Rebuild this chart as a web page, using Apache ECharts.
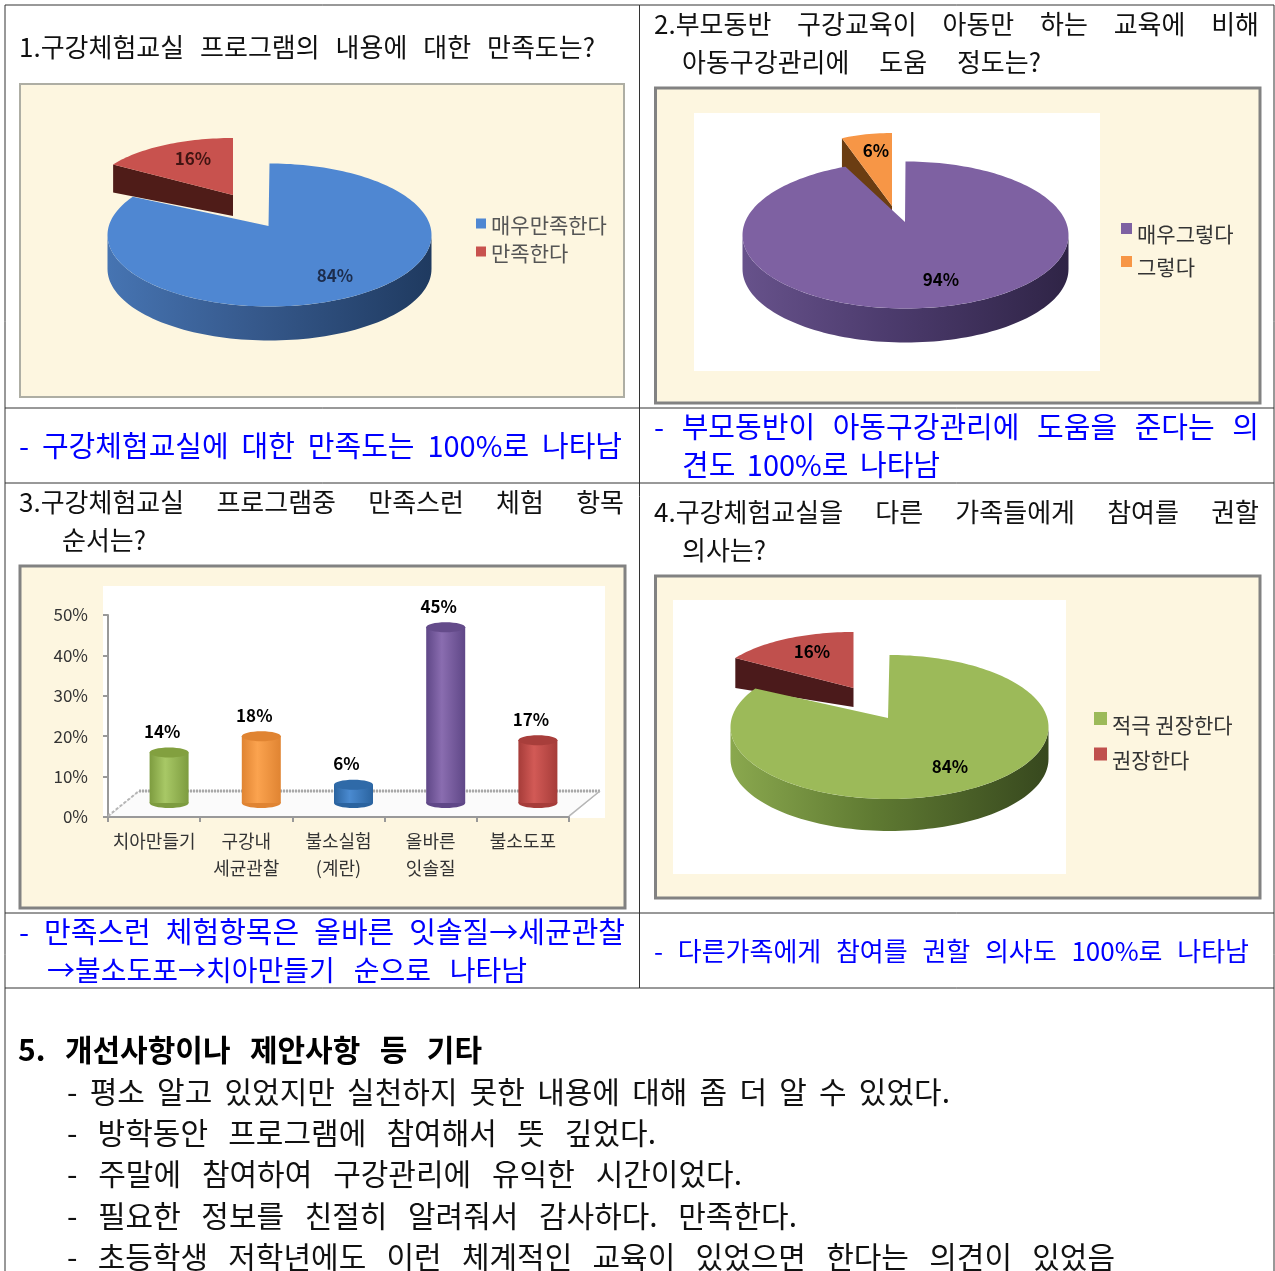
<!DOCTYPE html>
<html>
<head>
<meta charset="utf-8">
<style>
  html, body { margin: 0; padding: 0; background: #fff; overflow: hidden; }
  #main { width: 1275px; height: 1271px; }
</style>
<script src="https://cdn.jsdelivr.net/npm/echarts@6/dist/echarts.min.js"></script>
</head>
<body>
<div id="main"></div>
<script>
var pie1Names = ['매우만족한다', '만족한다'];
var pie1Values = [84, 16];
var pie2Names = ['매우그렇다', '그렇다'];
var pie2Values = [94, 6];
var pie4Names = ['적극 권장한다', '권장한다'];
var pie4Values = [84, 16];

var barCategories = ['치아만들기', '구강내\n세균관찰', '불소실험\n(계란)', '올바른\n잇솔질', '불소도포'];
var barValues = [14, 18, 6, 45, 17];

var textLines = [
    '1.구강체험교실 프로그램의 내용에 대한 만족도는?',
    '2.부모동반 구강교육이 아동만 하는 교육에 비해',
    '아동구강관리에 도움 정도는?',
    '3.구강체험교실 프로그램중 만족스런 체험 항목',
    '순서는?',
    '4.구강체험교실을 다른 가족들에게 참여를 권할',
    '의사는?'
];
var blueLines = [
    '- 구강체험교실에 대한 만족도는 100%로 나타남',
    '- 부모동반이 아동구강관리에 도움을 준다는 의',
    '견도 100%로 나타남',
    '- 만족스런 체험항목은 올바른 잇솔질→세균관찰',
    '→불소도포→치아만들기 순으로 나타남',
    '- 다른가족에게 참여를 권할 의사도 100%로 나타남'
];
var noteTitle = '5. 개선사항이나 제안사항 등 기타';
var noteLines = [
    '- 평소 알고 있었지만 실천하지 못한 내용에 대해 좀 더 알 수 있었다.',
    '- 방학동안 프로그램에 참여해서 뜻 깊었다.',
    '- 주말에 참여하여 구강관리에 유익한 시간이었다.',
    '- 필요한 정보를 친절히 알려줘서 감사하다. 만족한다.',
    '- 초등학생 저학년에도 이런 체계적인 교육이 있었으면 한다는 의견이 있었음'
];

// [시작x, 끝x, 중심y]
var textBoxes = [[19, 595, 47], [654, 1259, 24], [682, 1041, 62], [19, 624, 502], [62, 153, 540], [654, 1259, 512], [682, 774, 550]];
var blueBoxes = [[19, 622, 446], [654, 1259, 427], [682, 940, 465], [19, 625, 932], [47, 527, 970], [654, 1249, 951]];
var blueSizes = [29, 29, 29, 29, 28, 26];
var noteTitleBox = [18, 482, 1050];
var noteBoxes = [[67, 950, 1092], [67, 656, 1133], [67, 742, 1174], [67, 797, 1216], [67, 1115, 1257]];

var FONT = '"Noto Sans CJK KR", "Noto Sans", sans-serif';
var measure = document.createElement('canvas').getContext('2d');

// 글자를 단어별로 나눠서 양쪽 맞춤으로 배치
function lineText(text, box, color, size, weight) {
    var font = (weight || 'normal') + ' ' + size + 'px ' + FONT;
    measure.font = font;
    var words = text.split(' ');
    var total = 0;
    words.forEach(function (w) { total += measure.measureText(w).width; });
    var gap = words.length > 1 ? (box[1] - box[0] - total) / (words.length - 1) : 0;
    var x = box[0];
    return words.map(function (w) {
        var el = {
            type: 'text', z: 5,
            style: { text: w, x: x, y: box[2], font: font, fill: color, verticalAlign: 'middle' }
        };
        x += measure.measureText(w).width + gap;
        return el;
    });
}

function panel(x1, y1, x2, y2, stroke, width) {
    return {
        type: 'rect', z: -3,
        shape: { x: x1, y: y1, width: x2 - x1, height: y2 - y1 },
        style: { fill: '#fdf6e0', stroke: stroke, lineWidth: width }
    };
}
function whiteBox(x1, y1, x2, y2) {
    return { type: 'rect', z: -2, shape: { x: x1, y: y1, width: x2 - x1, height: y2 - y1 }, style: { fill: '#fff' } };
}
function rule(x1, y1, x2, y2, w) {
    return { type: 'line', z: 6, shape: { x1: x1, y1: y1, x2: x2, y2: y2 }, style: { stroke: '#333', lineWidth: w || 1 } };
}

var elements = [
    panel(20, 84, 624, 397, '#aeaea4', 2),
    panel(655.5, 88, 1260, 403, '#828282', 3),
    panel(20, 566, 625, 908, '#828282', 3),
    panel(655.5, 576, 1260, 898, '#828282', 3),
    whiteBox(694, 113, 1100, 371),
    whiteBox(103, 586, 605, 818),
    whiteBox(673, 600, 1066, 874),
    rule(5, 5, 1274, 5), rule(5, 408, 1274, 408), rule(5, 483, 1274, 483),
    rule(5, 913, 1274, 913), rule(5, 988, 1274, 988),
    rule(5, 5, 5, 1271), rule(1274, 5, 1274, 1271), rule(639.5, 5, 639.5, 988),
    // 막대 그래프 바닥면
    {
        type: 'polygon', z: 0,
        shape: { points: [[108, 817], [139, 791], [600, 791], [569, 817]] },
        style: { fill: '#fbfbfb', stroke: '#dcdcdc', lineWidth: 1 }
    },
    { type: 'line', z: 1, shape: { x1: 139, y1: 791, x2: 600, y2: 791 }, style: { stroke: '#a9a9a9', lineWidth: 3, lineDash: [2, 1] } },
    { type: 'line', z: 1, shape: { x1: 108, y1: 816, x2: 139, y2: 791 }, style: { stroke: '#b5b5b5', lineWidth: 2, lineDash: [3, 2] } },
    { type: 'line', z: 1, shape: { x1: 569, y1: 816, x2: 600, y2: 791 }, style: { stroke: '#b5b5b5', lineWidth: 1.5 } }
];
textLines.forEach(function (t, i) { elements = elements.concat(lineText(t, textBoxes[i], '#111', 26)); });
blueLines.forEach(function (t, i) { elements = elements.concat(lineText(t, blueBoxes[i], '#0000ff', blueSizes[i])); });
elements = elements.concat(lineText(noteTitle, noteTitleBox, '#000', 30, 'bold'));
noteLines.forEach(function (t, i) { elements = elements.concat(lineText(t, noteBoxes[i], '#111', 30)); });

var series = [];

// 3차원 원그래프 조각 하나 (pie 는 타원이 안 되므로 custom 으로 그림)
function pieSlice(name, value, startValue, total, cfg) {
    series.push({
        type: 'custom',
        name: name,
        coordinateSystem: 'none',
        silent: true,
        z: cfg.z,
        itemStyle: { color: cfg.top },
        data: [[value, startValue, total]],
        renderItem: function (params, api) {
            var a0 = api.value(1) / api.value(2) * 360;
            var a1 = (api.value(1) + api.value(0)) / api.value(2) * 360;
            function pt(deg, dy) {
                var r = deg * Math.PI / 180;
                return [cfg.cx + cfg.rx * Math.sin(r), cfg.cy - cfg.ry * Math.cos(r) + (dy || 0)];
            }
            var children = [];
            // 옆면
            var s0 = Math.max(a0, 90), s1 = Math.min(a1, 270);
            if (s1 > s0) {
                var wall = [], back = [];
                for (var d = s0; d <= s1; d += 2) {
                    wall.push(pt(d));
                    back.unshift(pt(d, cfg.depth));
                }
                children.push({
                    type: 'polygon',
                    shape: { points: wall.concat(back) },
                    style: {
                        fill: new echarts.graphic.LinearGradient(0, 0, 1, 0, [
                            { offset: 0, color: cfg.side[0] },
                            { offset: 0.45, color: cfg.side[1] },
                            { offset: 1, color: cfg.side[2] }
                        ])
                    }
                });
            }
            // 떨어져 나온 조각의 잘린 면
            if (cfg.cut) {
                var c = pt(a0);
                children.push({
                    type: 'polygon',
                    shape: { points: [c, [cfg.ax, cfg.ay], [cfg.ax, cfg.ay + cfg.cutDepth], [c[0], c[1] + cfg.depth]] },
                    style: { fill: cfg.cut }
                });
            }
            // 윗면
            var top = [[cfg.ax, cfg.ay]];
            for (var t = a0; t < a1; t += 1.5) top.push(pt(t));
            top.push(pt(a1));
            children.push({ type: 'polygon', shape: { points: top }, style: { fill: cfg.top } });
            children.push({
                type: 'text',
                style: {
                    text: api.value(0) + '%', x: cfg.lx, y: cfg.ly, align: 'center', verticalAlign: 'middle',
                    font: 'bold 17px ' + FONT, fill: cfg.labelColor
                }
            });
            return { type: 'group', children: children };
        }
    });
}

function addPie(names, values, mainCfg, restCfg) {
    var total = values[0] + values[1];
    pieSlice(names[1], values[1], values[0], total, restCfg);
    pieSlice(names[0], values[0], 0, total, mainCfg);
}

addPie(pie1Names, pie1Values,
    { z: 3, cx: 269.5, cy: 235, rx: 162, ry: 71.5, ax: 268.5, ay: 226, depth: 34, top: '#4f87d2',
      side: ['#4674b2', '#36598c', '#1f3a60'], lx: 335, ly: 276, labelColor: '#1c2c4c' },
    { z: 2, cx: 233, cy: 195, rx: 142, ry: 57, ax: 233, ay: 195, depth: 28, cutDepth: 21, top: '#c8524e',
      cut: '#4f1c18', side: ['#000', '#000', '#000'], lx: 193, ly: 159, labelColor: '#401412' });
addPie(pie2Names, pie2Values,
    { z: 3, cx: 905.5, cy: 235, rx: 163, ry: 73.5, ax: 905, ay: 222, depth: 34, top: '#7e61a2',
      side: ['#67528b', '#4c3b6d', '#2f2446'], lx: 941, ly: 280, labelColor: '#000' },
    { z: 2, cx: 892, cy: 206, rx: 136, ry: 73, ax: 892, ay: 206, depth: 29, cutDepth: 8, top: '#f79646',
      cut: '#6b3d12', side: ['#000', '#000', '#000'], lx: 876, ly: 151, labelColor: '#000' });
addPie(pie4Names, pie4Values,
    { z: 3, cx: 889.5, cy: 727, rx: 159, ry: 72, ax: 888, ay: 718, depth: 32, top: '#9cba59',
      side: ['#8aa84e', '#5f7a32', '#37481e'], lx: 950, ly: 767, labelColor: '#000' },
    { z: 2, cx: 853.5, cy: 688, rx: 140, ry: 56, ax: 853.5, ay: 688, depth: 30, cutDepth: 19, top: '#c0504d',
      cut: '#4b1a1b', side: ['#000', '#000', '#000'], lx: 812, ly: 652, labelColor: '#000' });

// 원기둥 막대
var barTones = [
    ['#7d9c3f', '#a8c866', '#82a03f'],
    ['#e08432', '#fba34f', '#e08432'],
    ['#2a639f', '#4a8ad0', '#2f6aa8'],
    ['#5f4787', '#8a6db0', '#644b8a'],
    ['#a63c39', '#d25a56', '#a83e3b']
];
series.push({
    type: 'custom',
    coordinateSystem: 'cartesian2d',
    xAxisIndex: 0,
    yAxisIndex: 0,
    silent: true,
    z: 3,
    encode: { x: 0, y: 1 },
    data: barValues.map(function (v, i) { return [i, v]; }),
    renderItem: function (params, api) {
        var i = api.value(0);
        var tone = barTones[i];
        var topPt = api.coord([i, api.value(1)]);
        var basePt = api.coord([i, 0]);
        var x = topPt[0] + 15, w = 39, ry = 5;
        var yTop = topPt[1] - 8, yBase = basePt[1] - 14;
        return {
            type: 'group',
            children: [
                { type: 'ellipse', shape: { cx: x, cy: yBase, rx: w / 2, ry: ry }, style: { fill: tone[0] } },
                {
                    type: 'rect',
                    shape: { x: x - w / 2, y: yTop, width: w, height: yBase - yTop },
                    style: {
                        fill: new echarts.graphic.LinearGradient(0, 0, 1, 0, [
                            { offset: 0, color: tone[0] },
                            { offset: 0.4, color: tone[1] },
                            { offset: 1, color: tone[0] }
                        ])
                    }
                },
                { type: 'ellipse', shape: { cx: x, cy: yTop, rx: w / 2, ry: ry }, style: { fill: tone[2] } },
                {
                    type: 'text',
                    style: {
                        text: api.value(1) + '%', x: x - 7, y: yTop - 21, align: 'center', verticalAlign: 'middle',
                        font: 'bold 17px ' + FONT, fill: '#000'
                    }
                }
            ]
        };
    }
});

function pieLegend(names, left, top, size, gap, color, pad) {
    return {
        data: names, orient: 'vertical', left: left, top: top, padding: 0, icon: 'rect', selectedMode: false,
        itemWidth: size, itemHeight: size, itemGap: gap,
        formatter: '{t|{name}}',
        textStyle: {
            fontFamily: FONT, fontSize: 21, color: color,
            rich: { t: { fontFamily: FONT, fontSize: 21, color: color, padding: [pad, 0, 0, 0] } }
        }
    };
}

var option = {
    animation: false,
    backgroundColor: '#fff',
    textStyle: { fontFamily: FONT },
    legend: [
        pieLegend(pie1Names, 476, 215, 10, 7, '#555', 4),
        pieLegend(pie2Names, 1121, 223, 11, 11, '#333', 12),
        pieLegend(pie4Names, 1094, 712, 13, 12, '#333', 13)
    ],
    grid: { left: 108, right: 1275 - 569, top: 615, bottom: 1271 - 817, containLabel: false },
    xAxis: {
        type: 'category',
        data: barCategories,
        axisLine: { lineStyle: { color: '#999', width: 2 } },
        axisTick: { show: true, alignWithLabel: false, length: 5, lineStyle: { color: '#999', width: 2 } },
        axisLabel: { color: '#333', fontSize: 18, lineHeight: 27, margin: 11, interval: 0, fontFamily: FONT }
    },
    yAxis: {
        type: 'value',
        min: 0,
        max: 50,
        interval: 10,
        splitLine: { show: false },
        axisLine: { show: true, lineStyle: { color: '#999', width: 2 } },
        axisTick: { show: true, length: 5, lineStyle: { color: '#999', width: 2 } },
        axisLabel: { color: '#333', fontSize: 17, margin: 20, formatter: '{value}%', fontFamily: FONT }
    },
    graphic: { elements: elements },
    series: series
};

var myChart = echarts.init(document.getElementById('main'));
myChart.setOption(option);
</script>
</body>
</html>
